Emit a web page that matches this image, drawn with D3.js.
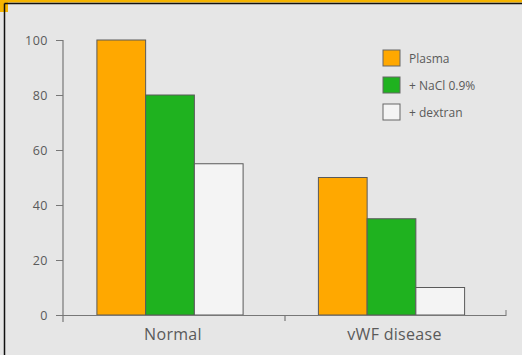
<!DOCTYPE html>
<html>
<head>
<meta charset="utf-8">
<script src="https://cdn.jsdelivr.net/npm/d3@7"></script>
<style>
  html, body { margin: 0; padding: 0; background: #e6e6e6; }
  svg { display: block; }
</style>
</head>
<body>
<svg id="chart" width="522" height="355"></svg>
<script>
// Relative values per condition
const categories = ["Normal", "vWF disease"];
const seriesNames = ["Plasma", "+ NaCl 0.9%", "+ dextran"];
const plasma = [100, 50];
const nacl = [80, 35];
const dextran = [55, 10];
const yTicks = [0, 20, 40, 60, 80, 100];

const colors = ["#ffa800", "#1fb21f", "#f4f4f4"];
const seriesValues = [plasma, nacl, dextran];

const svg = d3.select("#chart");
const W = 522, H = 355;

// background and frame
svg.append("rect").attr("width", W).attr("height", H).attr("fill", "#e6e6e6");
svg.append("rect").attr("x", 0).attr("y", 0).attr("width", W).attr("height", 2.5).attr("fill", "#f5b400");
svg.append("rect").attr("x", 0).attr("y", 0).attr("width", 8).attr("height", 12).attr("fill", "#f5b400");
svg.append("line").attr("x1", 4.5).attr("x2", W).attr("y1", 3.5).attr("y2", 3.5)
  .attr("stroke", "#111").attr("stroke-width", 1.5);
svg.append("line").attr("x1", 4.5).attr("x2", 4.5).attr("y1", 3.5).attr("y2", H)
  .attr("stroke", "#111").attr("stroke-width", 1.5);

const y = d3.scaleLinear().domain([0, 100]).range([315, 40]);
const x0 = d3.scaleBand().domain(categories).range([59.25, 502.25])
  .paddingInner(0.34).paddingOuter(0.17);
const x1 = d3.scaleBand().domain(seriesNames).range([0, x0.bandwidth()]);

const axisColor = "#777";
const textColor = "#5a5a5a";
const font = "'Open Sans', 'DejaVu Sans', sans-serif";

// y axis
const yAxis = svg.append("g").attr("transform", "translate(63,0)")
  .call(d3.axisLeft(y).tickValues(yTicks).tickSize(7).tickPadding(8));
yAxis.select(".domain").remove();
yAxis.selectAll(".tick line").attr("stroke", axisColor);
yAxis.selectAll(".tick text").attr("fill", textColor)
  .style("font-family", font).style("font-size", "12.5px")
  .style("letter-spacing", "0.5px");
svg.append("line").attr("x1", 63).attr("x2", 63).attr("y1", y(100)).attr("y2", 322)
  .attr("stroke", axisColor).attr("stroke-width", 1.2);

// bars
const groups = svg.append("g").selectAll("g").data(categories).join("g")
  .attr("transform", d => `translate(${x0(d)},0)`);
groups.selectAll("rect")
  .data((d, i) => seriesNames.map((s, j) => ({ s, v: seriesValues[j][i], c: colors[j] })))
  .join("rect")
  .attr("x", d => x1(d.s))
  .attr("y", d => y(d.v))
  .attr("width", x1.bandwidth())
  .attr("height", d => y(0) - y(d.v))
  .attr("fill", d => d.c)
  .attr("stroke", "#5a5a5a")
  .attr("stroke-width", 1);

// x axis
svg.append("line").attr("x1", 63).attr("x2", 506).attr("y1", 315.5).attr("y2", 315.5)
  .attr("stroke", axisColor).attr("stroke-width", 1.2);
svg.append("line").attr("x1", 285).attr("x2", 285).attr("y1", 315).attr("y2", 321)
  .attr("stroke", axisColor).attr("stroke-width", 1.2);
svg.append("line").attr("x1", 506).attr("x2", 506).attr("y1", 310).attr("y2", 316)
  .attr("stroke", axisColor).attr("stroke-width", 1);

svg.append("g").selectAll("text").data(categories).join("text")
  .attr("x", d => x0(d) + x0.bandwidth() / 2 + 3)
  .attr("y", 340)
  .attr("text-anchor", "middle")
  .attr("fill", textColor)
  .style("font-family", font).style("font-size", "16px")
  .style("letter-spacing", "0.3px")
  .text(d => d);

// legend
const legend = svg.append("g").attr("transform", "translate(383,50)");
const li = legend.selectAll("g").data(seriesNames).join("g")
  .attr("transform", (d, i) => `translate(0,${i * 27})`);
li.append("rect").attr("width", 17).attr("height", 16)
  .attr("fill", (d, i) => colors[i]).attr("stroke", "#666").attr("stroke-width", 1);
li.append("text").attr("x", 26).attr("y", 13)
  .attr("fill", textColor)
  .style("font-family", font).style("font-size", "12px")
  .text(d => d);
</script>
</body>
</html>
